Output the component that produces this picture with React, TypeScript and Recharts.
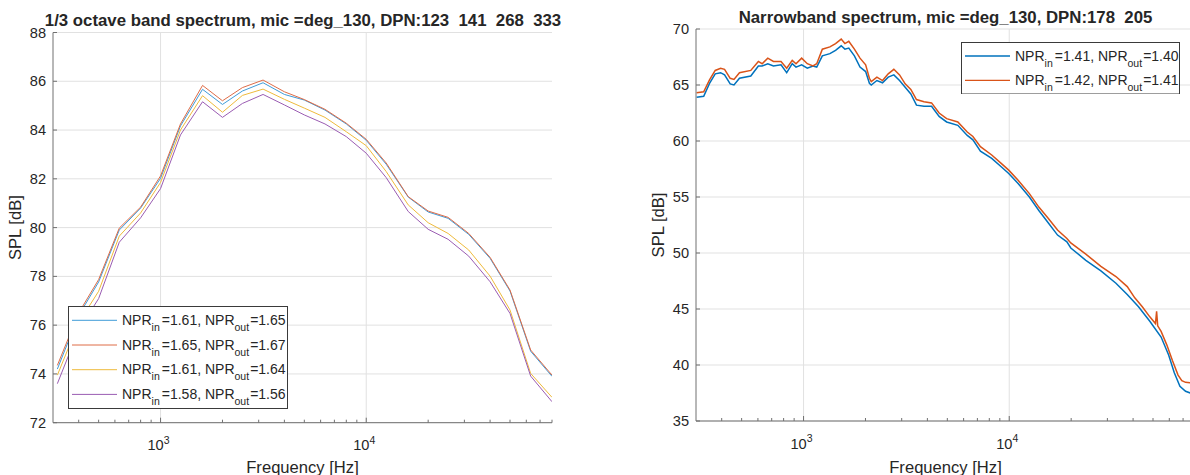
import { LineChart, Line, XAxis, YAxis, CartesianGrid, ReferenceLine, Legend } from "recharts";

const FONT = '"Liberation Sans", Arial, Helvetica, sans-serif';
const INK = "#262626";
const AXIS = "#707070";
const GRID = "#e1e1e1";

// shared log frequency axis, Hz
const freqDomain = [300, 80000];
const decades = [1000, 10000];
const minorFreqs = [
  400, 500, 600, 700, 800, 900,
  2000, 3000, 4000, 5000, 6000, 7000, 8000, 9000,
  20000, 30000, 40000, 50000, 60000, 70000, 80000,
];
const freqTicks = [...minorFreqs, ...decades].sort((a, b) => a - b);

// ---- 1/3 octave band spectrum ----
const bandFreqs = [
  315, 400, 500, 630, 800, 1000, 1250, 1600, 2000, 2500, 3150, 4000, 5000,
  6300, 8000, 10000, 12500, 16000, 20000, 25000, 31500, 40000, 50000, 63000, 80000,
];
const bandSpl161 = [
  74.2, 76.4, 77.77, 79.9, 80.8, 82.02, 84.17, 85.67, 85.05, 85.6, 85.94, 85.46, 85.23,
  84.82, 84.25, 83.58, 82.6, 81.25, 80.64, 80.38, 79.72, 78.74, 77.4, 74.93, 73.9,
];
const bandSpl165 = [
  74.35, 76.5, 77.87, 79.98, 80.84, 82.12, 84.25, 85.83, 85.2, 85.74, 86.05, 85.57, 85.25,
  84.85, 84.28, 83.62, 82.65, 81.27, 80.68, 80.42, 79.76, 78.78, 77.44, 74.98, 73.95,
];
const bandSpl161b = [
  73.95, 76.1, 77.39, 79.65, 80.6, 81.85, 84.0, 85.41, 84.73, 85.42, 85.68, 85.26, 84.9,
  84.52, 83.93, 83.36, 82.3, 80.93, 80.2, 79.76, 79.08, 78.01, 76.62, 74.02, 73.04,
];
const bandSpl158 = [
  73.6, 75.8, 77.09, 79.4, 80.4, 81.6, 83.8, 85.16, 84.52, 85.09, 85.46, 85.03, 84.62,
  84.25, 83.73, 83.05, 82.05, 80.66, 79.93, 79.52, 78.83, 77.78, 76.48, 73.91, 72.86,
];
const bandNprIn = ["1.61", "1.65", "1.61", "1.58"];
const bandNprOut = ["1.65", "1.67", "1.64", "1.56"];
const bandColors = ["#3f9bd8", "#de6c47", "#eeba3c", "#9a5cb2"];
const bandTicks = [72, 74, 76, 78, 80, 82, 84, 86, 88];

// ---- narrowband spectrum ----
const nbFreq141 = [
  302, 327, 349, 372, 395, 413, 440, 459, 488, 554, 603, 629, 670, 714, 777, 828, 881, 919,
  979, 1043, 1111, 1159, 1234, 1343, 1431, 1524, 1589, 1659, 1767, 1881, 2004, 2090, 2134,
  2273, 2421, 2580, 2748, 2929, 3119, 3323, 3540, 3852, 4191, 4561, 4962, 5624, 6250, 6658,
  7244, 8219, 9139, 9942, 11043, 12527, 13927, 15464, 17172, 19066, 19920, 23570, 27900,
  33020, 37470, 42510, 48240, 54740, 59560, 63450, 67580, 71990, 76060, 80000,
];
const nbSpl141 = [
  63.9, 64.0, 65.15, 66.0, 66.1, 65.9, 65.1, 65.0, 65.6, 65.8, 66.7, 66.7, 66.9, 66.7, 66.8,
  66.1, 66.9, 66.6, 66.8, 66.5, 66.7, 66.6, 67.6, 67.8, 68.1, 68.5, 68.2, 68.3, 67.6, 66.6,
  66.2, 65.15, 65.0, 65.4, 65.2, 65.7, 65.9, 65.4, 64.8, 64.2, 63.2, 63.1, 63.1, 62.2, 61.7,
  61.4, 60.5, 60.1, 59.1, 58.45, 57.7, 57.1, 56.2, 55.0, 53.8, 52.7, 51.6, 51.0, 50.45,
  49.35, 48.4, 47.3, 46.3, 45.2, 43.9, 42.5, 40.9, 39.3, 38.1, 37.65, 37.5, 37.5,
];
const nbFreq142 = [
  302, 327, 349, 372, 395, 413, 440, 459, 488, 554, 603, 629, 670, 714, 777, 828, 881, 919,
  979, 1043, 1111, 1159, 1234, 1343, 1431, 1524, 1589, 1659, 1767, 1881, 2004, 2090, 2134,
  2273, 2421, 2580, 2748, 2929, 3119, 3323, 3540, 3852, 4191, 4561, 4962, 5624, 6250, 6658,
  7244, 8219, 9139, 9942, 11043, 12527, 13927, 15464, 17172, 19066, 19920, 23570, 27900,
  33020, 37470, 40760, 44350, 48240, 51400, 52050, 52700, 54740, 58330, 62130, 66180,
  69030, 71990, 76060, 80000,
];
const nbSpl142 = [
  64.3, 64.4, 65.45, 66.3, 66.5, 66.4, 65.6, 65.5, 66.1, 66.3, 67.1, 66.9, 67.4, 67.1, 67.1,
  66.5, 67.2, 66.9, 67.4, 66.9, 66.7, 66.9, 68.2, 68.4, 68.7, 69.1, 68.7, 68.9, 68.2, 67.4,
  66.8, 65.6, 65.3, 65.7, 65.4, 66.0, 66.4, 65.9, 65.1, 64.6, 63.7, 63.5, 63.4, 62.5, 62.0,
  61.7, 60.8, 60.4, 59.5, 58.75, 58.0, 57.4, 56.5, 55.3, 54.1, 53.1, 52.05, 51.3, 50.9,
  49.9, 48.8, 47.9, 47.0, 46.0, 45.2, 44.3, 43.7, 44.8, 43.5, 43.0, 41.8, 40.4, 39.1,
  38.6, 38.45, 38.4, 38.45,
];
const nbNprIn = ["1.41", "1.42"];
const nbNprOut = ["1.40", "1.41"];
const nbColors = ["#0072bd", "#d95319"];
const nbTicks = [35, 40, 45, 50, 55, 60, 65, 70];

const toPoints = (freqs: number[], spl: number[]) => freqs.map((f, i) => ({ f, spl: spl[i] }));

const bandSeries = [bandSpl161, bandSpl165, bandSpl161b, bandSpl158].map((spl, i) => ({
  name: `NPR_in=${bandNprIn[i]}, NPR_out=${bandNprOut[i]}`,
  data: toPoints(bandFreqs, spl),
  color: bandColors[i],
  width: 1,
}));

const nbSeries = [
  { freqs: nbFreq141, spl: nbSpl141 },
  { freqs: nbFreq142, spl: nbSpl142 },
].map((s, i) => ({
  name: `NPR_in=${nbNprIn[i]}, NPR_out=${nbNprOut[i]}`,
  data: toPoints(s.freqs, s.spl),
  color: nbColors[i],
  width: 1.5,
}));

// inward tick marks, MATLAB style; labels only on decades
function FreqTick(props: any) {
  const { x, y, payload } = props;
  const major = decades.includes(payload.value);
  return (
    <g>
      <line x1={x} x2={x} y1={y} y2={y - (major ? 5 : 3)} stroke={AXIS} />
      {major && (
        <text x={x - 2} y={y + 27.5} textAnchor="middle" fontFamily={FONT} fontSize={14.6} fill={INK}>
          10
          <tspan fontSize={10.5} dy={-6.5}>
            {Math.round(Math.log10(payload.value))}
          </tspan>
        </text>
      )}
    </g>
  );
}

function SplTick(props: any) {
  const { x, y, payload } = props;
  return (
    <g>
      <line x1={x} x2={x + 4} y1={y} y2={y} stroke={AXIS} />
      <text x={x - 7} y={y + 5} textAnchor="end" fontFamily={FONT} fontSize={14.6} fill={INK}>
        {payload.value}
      </text>
    </g>
  );
}

interface LegendBoxProps {
  nprIn: string[];
  nprOut: string[];
  colors: string[];
  width: number;
  height: number;
  rowStart: number;
  rowStep: number;
  lineWidth: number;
}

function NprLegend({ nprIn, nprOut, colors, width, height, rowStart, rowStep, lineWidth }: LegendBoxProps) {
  return (
    <svg width={width} height={height} style={{ display: "block" }}>
      <rect x={0.5} y={0.5} width={width - 1} height={height - 1} fill="#fff" stroke="#3a3a3a" />
      {nprIn.map((v, i) => {
        const cy = rowStart + i * rowStep;
        return (
          <g key={i}>
            <line x1={4} x2={49} y1={cy} y2={cy} stroke={colors[i]} strokeWidth={lineWidth} />
            <text x={54} y={cy + 4.5} fontFamily={FONT} fontSize={14} fill={INK}>
              NPR
              <tspan fontSize={10.5} dy={6}>in</tspan>
              <tspan dx={2} dy={-6}>={v}, NPR</tspan>
              <tspan fontSize={10.5} dy={6}>out</tspan>
              <tspan dx={1} dy={-6}>={nprOut[i]}</tspan>
            </text>
          </g>
        );
      })}
    </svg>
  );
}

interface PanelProps {
  margin: { top: number; right: number; bottom: number; left: number };
  yDomain: number[];
  yTicks: number[];
  series: { name: string; data: { f: number; spl: number }[]; color: string; width: number }[];
  legend: { left: number; top: number } & LegendBoxProps;
}

function SpectrumPanel({ margin, yDomain, yTicks, series, legend }: PanelProps) {
  const { left, top, ...box } = legend;
  return (
    <LineChart width={600} height={475} margin={margin}>
      <CartesianGrid vertical={false} stroke={GRID} />
      {decades.map((d) => (
        <ReferenceLine key={d} x={d} stroke={GRID} />
      ))}
      <XAxis
        dataKey="f"
        type="number"
        scale="log"
        domain={freqDomain}
        allowDataOverflow
        ticks={freqTicks}
        interval={0}
        tick={FreqTick}
        tickLine={false}
        tickSize={0}
        tickMargin={0}
        axisLine={{ stroke: AXIS }}
        height={30}
      />
      <YAxis
        type="number"
        domain={yDomain}
        allowDataOverflow
        ticks={yTicks}
        interval={0}
        tick={SplTick}
        tickLine={false}
        tickSize={0}
        tickMargin={0}
        axisLine={{ stroke: AXIS }}
        width={40}
      />
      {series.map((s) => (
        <Line
          key={s.name}
          data={s.data}
          dataKey="spl"
          name={s.name}
          type="linear"
          stroke={s.color}
          strokeWidth={s.width}
          dot={false}
          activeDot={false}
          isAnimationActive={false}
        />
      ))}
      <Legend
        layout="vertical"
        align="center"
        verticalAlign="middle"
        wrapperStyle={{ left, top, width: box.width, height: box.height, margin: 0, padding: 0 }}
        content={() => <NprLegend {...box} />}
      />
    </LineChart>
  );
}

const textStyle = { fontFamily: FONT, fill: INK } as const;

export default function App() {
  return (
    <div
      style={{
        position: "fixed",
        left: 0,
        top: 0,
        width: 1190,
        height: 475,
        overflow: "hidden",
        background: "#fff",
      }}
    >
      <div style={{ position: "absolute", left: 0, top: 0 }}>
        <SpectrumPanel
          margin={{ top: 32.5, right: 48, bottom: 22.3, left: 13 }}
          yDomain={[72, 88]}
          yTicks={bandTicks}
          series={bandSeries}
          legend={{
            left: 68.3,
            top: 305.7,
            width: 220,
            height: 103,
            rowStart: 14.3,
            rowStep: 24.7,
            nprIn: bandNprIn,
            nprOut: bandNprOut,
            colors: bandColors,
            lineWidth: 1,
          }}
        />
      </div>
      <div style={{ position: "absolute", left: 600, top: 0 }}>
        <SpectrumPanel
          margin={{ top: 29, right: 5, bottom: 24, left: 56 }}
          yDomain={[35, 70]}
          yTicks={nbTicks}
          series={nbSeries}
          legend={{
            left: 360.7,
            top: 41.7,
            width: 219,
            height: 52.5,
            rowStart: 14,
            rowStep: 24.3,
            nprIn: nbNprIn,
            nprOut: nbNprOut,
            colors: nbColors,
            lineWidth: 1.3,
          }}
        />
      </div>
      <svg
        width={1190}
        height={475}
        style={{ position: "absolute", left: 0, top: 0, pointerEvents: "none" }}
      >
        <text x={303} y={26} textAnchor="middle" fontSize={16.8} fontWeight="bold" style={{ whiteSpace: "pre" }} {...textStyle}>
          1/3 octave band spectrum, mic =deg_130, DPN:123  141  268  333
        </text>
        <text x={945.5} y={22.5} textAnchor="middle" fontSize={16.8} fontWeight="bold" style={{ whiteSpace: "pre" }} {...textStyle}>
          Narrowband spectrum, mic =deg_130, DPN:178  205
        </text>
        <text x={302.5} y={472.5} textAnchor="middle" fontSize={16.6} {...textStyle}>
          Frequency [Hz]
        </text>
        <text x={945.5} y={472.5} textAnchor="middle" fontSize={16.6} {...textStyle}>
          Frequency [Hz]
        </text>
        <text transform="translate(21 227.6) rotate(-90)" textAnchor="middle" fontSize={16.6} {...textStyle}>
          SPL [dB]
        </text>
        <text transform="translate(664 225) rotate(-90)" textAnchor="middle" fontSize={16.6} {...textStyle}>
          SPL [dB]
        </text>
      </svg>
    </div>
  );
}
